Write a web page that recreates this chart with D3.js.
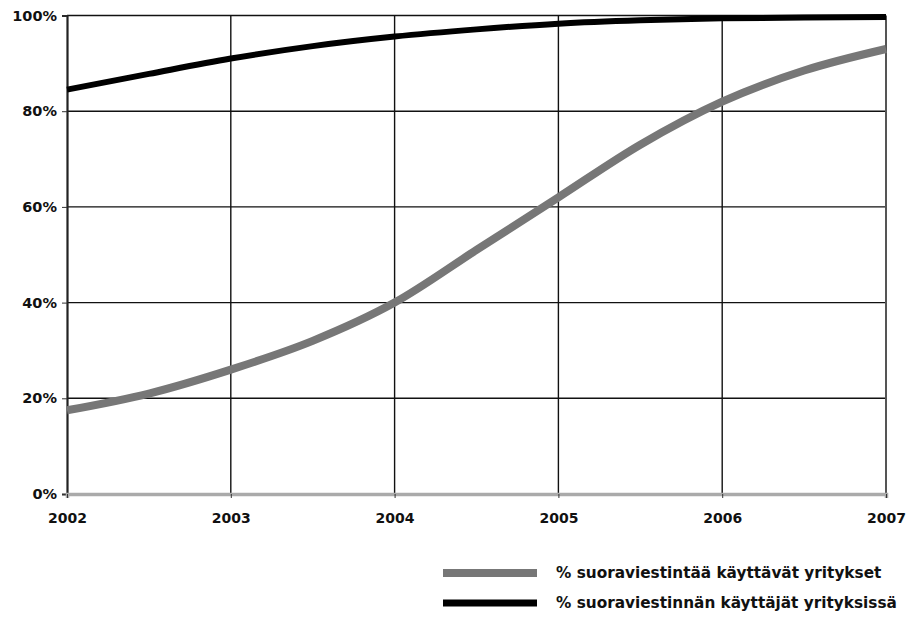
<!DOCTYPE html>
<html><head><meta charset="utf-8">
<script src="https://cdn.jsdelivr.net/npm/d3@7"></script>
<style>body{margin:0;background:#fff}svg{display:block}text{font-family:"DejaVu Sans",Arial,sans-serif;font-weight:bold}</style>
</head><body>
<script>
const years = [2002, 2003, 2004, 2005, 2006, 2007];
const yTicks = [0, 20, 40, 60, 80, 100];
const t = [2002, 2002.5, 2003, 2003.5, 2004, 2004.5, 2005, 2005.5, 2006, 2006.5, 2007];
const grayVals = [17.5, 21, 26, 32, 40, 51, 62, 73, 82, 88.5, 93];
const blackVals = [84.5, 87.8, 91, 93.6, 95.6, 97.1, 98.3, 99, 99.4, 99.6, 99.7];
const seriesNames = ["% suoraviestintää käyttävät yritykset", "% suoraviestinnän käyttäjät yrityksissä"];

const W = 906, H = 617;
const FONT = '"DejaVu Sans",Arial,sans-serif';
const svg = d3.select("body").append("svg").attr("width", W).attr("height", H);
const x = d3.scaleLinear().domain([2002, 2007]).range([67, 886]);
const y = d3.scaleLinear().domain([0, 100]).range([494, 15.5]);

const g = svg.append("g");
g.selectAll(".hg").data(yTicks.filter(d => d > 0)).enter().append("line")
  .attr("x1", x(2002)).attr("x2", x(2007)).attr("y1", d => y(d)).attr("y2", d => y(d))
  .attr("stroke", "#111").attr("stroke-width", 1.4);
g.selectAll(".vg").data(years.slice(1, -1)).enter().append("line")
  .attr("x1", d => x(d)).attr("x2", d => x(d)).attr("y1", y(100)).attr("y2", y(0))
  .attr("stroke", "#111").attr("stroke-width", 1.4);
g.append("line").attr("x1", x(2007)).attr("x2", x(2007)).attr("y1", y(100)).attr("y2", y(0))
  .attr("stroke", "#555").attr("stroke-width", 2);

const ya = svg.append("g").attr("transform", `translate(${x(2002)},0)`)
  .call(d3.axisLeft(y).tickValues(yTicks).tickFormat(d => d + "%").tickSize(5).tickPadding(5));
ya.select(".domain").attr("stroke", "#222").attr("stroke-width", 2.2);
ya.selectAll(".tick line").attr("stroke", "#333");
ya.selectAll("text").attr("font-size", 14.5).attr("fill", "#111").attr("font-family", FONT).attr("font-weight", "bold");

const xa = svg.append("g").attr("transform", `translate(0,${y(0)})`)
  .call(d3.axisBottom(x).tickValues(years).tickFormat(d3.format("d")).tickSize(4).tickPadding(15));
xa.select(".domain").attr("stroke", "#aaa").attr("stroke-width", 3.5);
xa.selectAll(".tick line").attr("stroke", "#333");
xa.selectAll("text").attr("font-size", 14).attr("fill", "#111").attr("font-family", FONT).attr("font-weight", "bold");

const line = d3.line().x((d, i) => x(t[i])).y(d => y(d)).curve(d3.curveMonotoneX);
svg.append("path").datum(grayVals).attr("d", line).attr("fill", "none")
  .attr("stroke", "#777").attr("stroke-width", 8);
svg.append("path").datum(blackVals).attr("d", line).attr("fill", "none")
  .attr("stroke", "#000").attr("stroke-width", 6);

const leg = svg.append("g");
const legColors = ["#777", "#000"], legW = [8, 7];
seriesNames.forEach((n, i) => {
  const ly = 573 + i * 30;
  leg.append("line").attr("x1", 443).attr("x2", 537).attr("y1", ly).attr("y2", ly)
    .attr("stroke", legColors[i]).attr("stroke-width", legW[i]);
  leg.append("text").attr("x", 556).attr("y", ly + 5).attr("font-size", 15.3).attr("fill", "#111")
    .attr("font-family", FONT).text(n);
});
</script>
</body></html>
